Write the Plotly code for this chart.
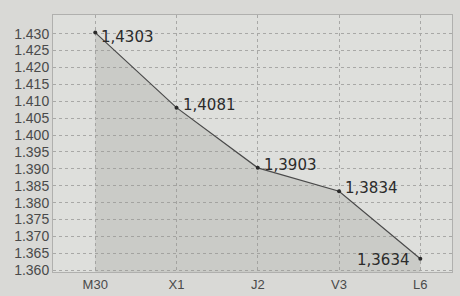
import plotly.graph_objects as go

categories = ["M30", "X1", "J2", "V3", "L6"]
values = [1.4303, 1.4081, 1.3903, 1.3834, 1.3634]
labels = ["1,4303", "1,4081", "1,3903", "1,3834", "1,3634"]
y_ticks = [1.360, 1.365, 1.370, 1.375, 1.380, 1.385, 1.390, 1.395,
           1.400, 1.405, 1.410, 1.415, 1.420, 1.425, 1.430]

fig = go.Figure()
fig.add_trace(go.Scatter(
    x=list(range(len(categories))), y=values,
    mode="lines+markers",
    fill="tozeroy", fillcolor="rgba(150,150,148,0.28)",
    line=dict(color="#4a4a4a", width=1.2),
    marker=dict(color="#2a2a2a", size=4),
    hoverinfo="skip",
))
pos = ["middle right"] * 4 + ["middle left"]
for i, (v, t, p) in enumerate(zip(values, labels, pos)):
    fig.add_annotation(
        x=i, y=v, text=t, showarrow=False,
        xanchor="left" if p == "middle right" else "right",
        yanchor="middle",
        xshift=4 if p == "middle right" else -8,
        yshift=-4 if i == 0 else (3 if i < 4 else -1),
        font=dict(family="DejaVu Sans", size=15, color="#2b2b2b"),
    )

fig.update_layout(
    width=460, height=296,
    margin=dict(l=53, r=8, t=15, b=24),
    paper_bgcolor="#d9d9d6",
    plot_bgcolor="#dedfdc",
    showlegend=False,
    xaxis=dict(
        range=[-0.52, 4.39], automargin=False,
        tickmode="array", tickvals=list(range(len(categories))), ticktext=categories,
        showgrid=True, gridcolor="#a8a8a6", griddash="dot", gridwidth=1,
        zeroline=False, showline=True, linecolor="#b0b0ae", mirror=True,
        ticks="", tickfont=dict(family="Liberation Sans", size=13, color="#4a4a4a"),
        fixedrange=True,
    ),
    yaxis=dict(
        range=[1.3595, 1.4355], automargin=False,
        tickmode="array", tickvals=y_ticks, tickformat=".3f",
        showgrid=True, gridcolor="#a8a8a6", griddash="dot", gridwidth=1,
        zeroline=False, showline=True, linecolor="#b0b0ae", mirror=True,
        ticks="", tickfont=dict(family="Liberation Sans", size=14, color="#4a4a4a"),
        fixedrange=True,
    ),
)

fig.write_html(
    "out.html",
    config={"displayModeBar": False},
    post_script="document.body.style.margin='0';document.body.style.overflow='hidden';",
)
